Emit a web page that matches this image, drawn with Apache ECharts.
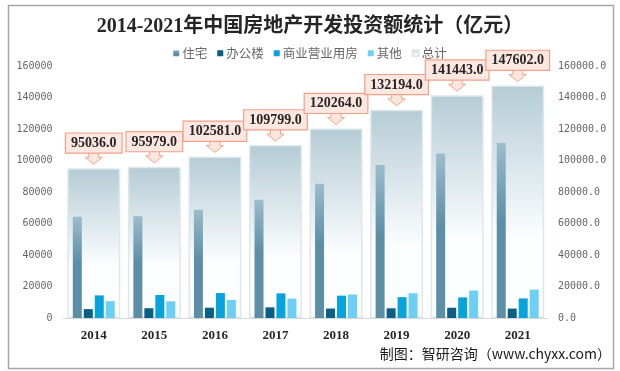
<!DOCTYPE html>
<html><head><meta charset="utf-8">
<script src="https://cdn.jsdelivr.net/npm/echarts@6/dist/echarts.min.js"></script>
<style>html,body{margin:0;padding:0;background:#fff}#c{width:620px;height:371px}</style>
</head><body><div id="c"></div>
<script>
var years = ['2014','2015','2016','2017','2018','2019','2020','2021'];
var residential = [64352, 64595, 68704, 75148, 85192, 97071, 104446, 111173];
var office = [5641, 6210, 6533, 6761, 5996, 6163, 6494, 5974];
var commercial = [14346, 14607, 15838, 15640, 14177, 13226, 13076, 12445];
var other = [10697, 10567, 11506, 12250, 14899, 15734, 17427, 18010];
var total = [95036, 95979, 102581, 109799, 120264, 132194, 141443, 147602];
var yTicks = [0, 20000, 40000, 60000, 80000, 100000, 120000, 140000, 160000];

var chart = echarts.init(document.getElementById('c'));
var axisFont = {fontFamily: 'DejaVu Sans Mono', fontSize: 10, color: '#666'};
function grad(c1, c2, stop) {
  return new echarts.graphic.LinearGradient(0, 0, 0, 1, [
    {offset: 0, color: c1}, {offset: stop, color: c2}, {offset: 1, color: c2}]);
}
var option = {
  animation: false,
  title: {
    text: '2014-2021年中国房地产开发投资额统计（亿元）',
    left: 'center', top: 12,
    textStyle: {fontFamily: 'Liberation Serif, Noto Sans CJK SC', fontWeight: 'bold', fontSize: 20, color: '#262626'}
  },
  legend: {
    data: ['住宅', '办公楼', '商业营业用房', '其他', '总计'],
    top: 42, left: 'center',
    itemWidth: 6, itemHeight: 6, itemGap: 10,
    icon: 'rect',
    textStyle: {fontSize: 12.5, color: '#666', fontFamily: 'Noto Sans CJK SC', padding: [0,0,0,-2]}
  },
  grid: {left: 63.5, right: 72, top: 66, bottom: 53},
  xAxis: [
    {type: 'category', data: years,
     axisLine: {lineStyle: {color: '#d9d9d9'}}, axisTick: {show: false},
     axisLabel: {fontFamily: 'Liberation Serif', fontWeight: 'bold', fontSize: 13, color: '#262626', margin: 11}},
    {type: 'category', data: years, show: false}
  ],
  yAxis: [
    {type: 'value', min: yTicks[0], max: yTicks[yTicks.length-1], interval: 20000,
     splitLine: {show: false}, axisLine: {show: false}, axisTick: {show: false},
     axisLabel: Object.assign({margin: 11, formatter: function(v){return String(v);}}, axisFont)},
    {type: 'value', min: yTicks[0], max: yTicks[yTicks.length-1], interval: 20000,
     splitLine: {show: false}, axisLine: {show: false}, axisTick: {show: false},
     axisLabel: Object.assign({margin: 10, formatter: function(v){return v.toFixed(1);}}, axisFont)}
  ],
  series: [
    {name: '总计', type: 'bar', xAxisIndex: 1, yAxisIndex: 1, data: total, barWidth: 53, z: 1,
     itemStyle: {color: grad('#b5ccd5', '#fbfdfe', 0.65), borderColor: '#dde8ed', borderWidth: 1.5}},
    {name: '住宅', type: 'bar', data: residential, barWidth: 9, barGap: '22%', z: 3,
     itemStyle: {color: grad('#9dbccb', '#5c8fa6', 0.45)}},
    {name: '办公楼', type: 'bar', data: office, barWidth: 9, barGap: '22%', z: 3,
     itemStyle: {color: '#0b5f85'}},
    {name: '商业营业用房', type: 'bar', data: commercial, barWidth: 9, barGap: '22%', z: 3,
     itemStyle: {color: '#07a3dc'}},
    {name: '其他', type: 'bar', data: other, barWidth: 9, barGap: '22%', z: 3,
     itemStyle: {color: '#6dcff4'}},
    {name: '标签', type: 'custom', xAxisIndex: 1, yAxisIndex: 1, z: 5,
     data: total.map(function(v, i){return [i, v];}),
     renderItem: function(params, api) {
       var p = api.coord([api.value(0), api.value(1)]);
       var tx = p[0], ty = p[1] - 4;
       return {type: 'group', children: [
         {type: 'polygon', shape: {points: [[tx-5, ty-13],[tx+5, ty-13],[tx+5, ty-7],[tx+8.5, ty-7],[tx, ty],[tx-8.5, ty-7],[tx-5, ty-7]]},
          style: {fill: '#fde6dd', stroke: '#f2a58a', lineWidth: 1}},
         {type: 'text', x: tx, y: ty - 11.7,
          style: {text: api.value(1).toFixed(1), align: 'center', verticalAlign: 'bottom',
            font: 'bold 14px "Liberation Serif"', fill: '#262626',
            backgroundColor: '#fde8e1', borderColor: '#f2a08a', borderWidth: 1.2,
            padding: [3, 5, 2, 5]}}
       ]};
     }}
  ],
  graphic: [
    {type: 'rect', shape: {x: 8.5, y: 5.5, width: 605, height: 363}, style: {fill: 'none', stroke: '#a6a6a6', lineWidth: 1.5}, z: 0},
    {type: 'text', right: 9, top: 347, style: {text: '制图：智研咨询（www.chyxx.com）', font: '14px "Noto Sans CJK SC"', fill: '#1a1a1a'}}
  ]
};
chart.setOption(option);
</script></body></html>
